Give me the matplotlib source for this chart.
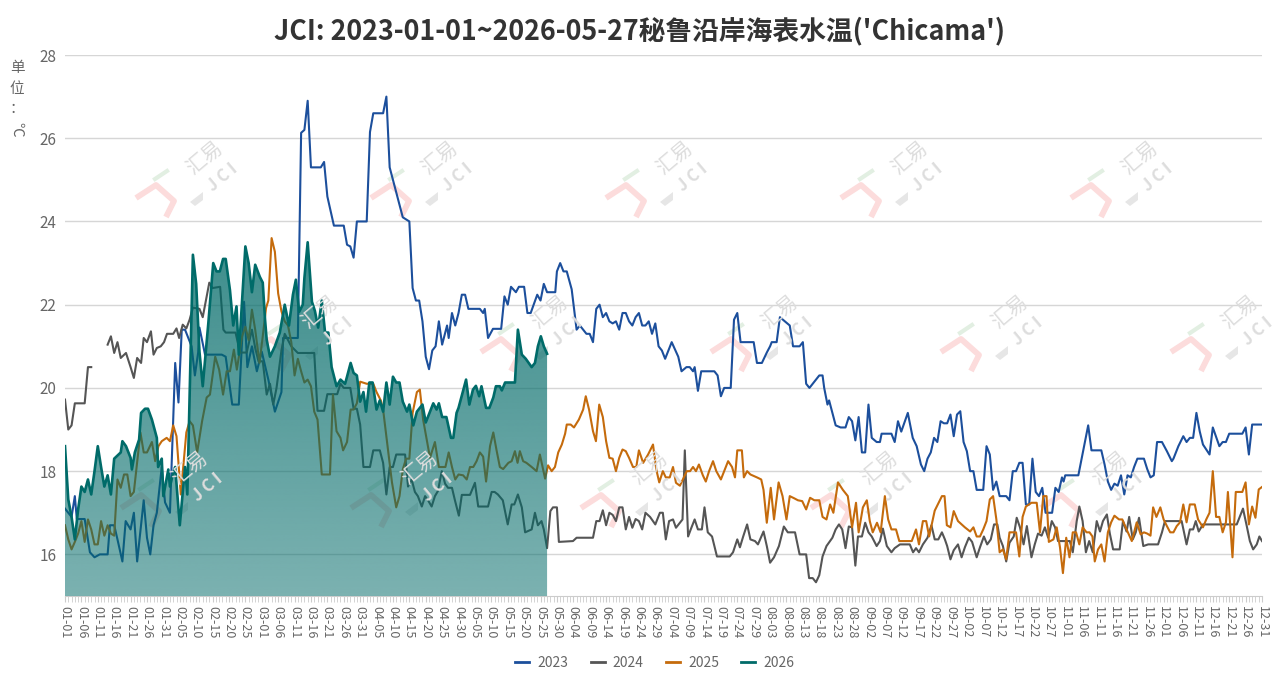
"""
JCI chart: Peru coastal sea surface temperature (Chicama), 2023-2026.
Output: out.png
"""

import numpy as np
import pandas as pd
import matplotlib
matplotlib.use("Agg")
import matplotlib.pyplot as plt
from matplotlib.colors import to_rgb
from matplotlib.lines import Line2D
from matplotlib.patches import Polygon

plt.rcParams["font.family"] = ["Noto Sans CJK SC", "DejaVu Sans"]

# ── Data: (day-of-year index, °C) ─────────────────────────────────────────────
SST_2023 = [
    (0, 17.1), (1, 17.0), (2, 16.9), (3, 17.4), (3.6, 16.85), (6, 16.85), (7.6, 16.05), (9, 15.93),
    (10.6, 16.0), (13, 16.0), (13.7, 16.7), (15, 16.7), (16, 16.36), (17.5, 15.83), (18.5, 16.8),
    (20, 16.6), (21, 17.0), (22, 15.83), (24, 17.3), (25, 16.4), (26, 16.0), (27, 16.7), (28, 17.0),
    (29.5, 18.1), (30.5, 17.25), (32, 17.0), (33.6, 20.6), (34.6, 19.65), (35.6, 21.4), (36.6, 21.4),
    (38.6, 21.0), (39.6, 20.3), (40.6, 20.85), (41, 21.45), (42.7, 20.8), (47.8, 20.8), (49, 20.75),
    (51, 19.6), (53, 19.6), (54.6, 22.07), (55.6, 20.5), (57, 21.0), (58.5, 20.4), (60, 20.87),
    (62, 20.2), (64, 19.43), (66, 19.9), (66.5, 21.2), (71, 21.2), (72, 26.13), (73, 26.2), (74, 26.9),
    (75, 25.3), (78, 25.3), (79, 25.43), (80, 24.6), (82, 23.9), (85, 23.9), (86, 23.44), (87, 23.4),
    (88, 23.13), (89, 24.0), (92, 24.0), (93, 26.15), (94, 26.6), (97, 26.6), (98, 27.0), (99, 25.3),
    (101, 24.7), (103, 24.1), (105, 24.0), (106, 22.4), (107, 22.1), (108, 22.1), (109, 21.6),
    (110, 20.75), (111, 20.45), (112, 20.9), (113, 21.0), (114, 21.6), (115, 21.04), (116.5, 21.5),
    (117, 21.2), (118, 21.8), (119, 21.5), (120, 21.8), (121, 22.24), (122, 22.24), (123, 21.9),
    (126.5, 21.9), (127.5, 21.8), (128, 21.9), (129, 21.2), (130.5, 21.42), (133, 21.42), (134, 22.2),
    (135, 22.0), (136, 22.43), (137.5, 22.3), (138.4, 22.43), (140, 22.43), (141, 21.8), (142, 21.8),
    (144, 22.24), (145, 22.1), (146, 22.5), (147, 22.3), (149.5, 22.3), (150, 22.8), (151, 23.0),
    (152, 22.8), (153, 22.8), (154.5, 22.37), (156, 21.4), (157, 21.5), (159, 21.3), (160, 21.3),
    (161, 21.1), (162, 21.9), (163, 22.0), (164, 21.7), (165, 21.8), (166, 21.6), (167, 21.55),
    (168, 21.6), (169, 21.4), (170, 21.8), (171, 21.8), (172, 21.6), (173, 21.5), (174, 21.7),
    (175, 21.8), (176, 21.5), (177, 21.5), (178, 21.6), (179, 21.3), (180, 21.55), (181, 21.0),
    (182, 20.9), (183, 20.7), (185, 21.1), (187, 20.75), (188, 20.4), (189.5, 20.5), (190.5, 20.5),
    (191.5, 20.4), (192, 20.5), (193, 19.93), (194, 20.4), (198, 20.4), (199, 20.3), (200, 19.8),
    (201, 20.0), (203, 20.0), (204, 21.64), (205, 21.8), (206, 21.1), (210, 21.1), (211, 20.6),
    (212.5, 20.6), (214, 20.85), (215, 21.0), (215.5, 21.1), (217, 21.1), (218, 21.7), (219.5, 21.6),
    (221, 21.5), (222, 21.0), (224, 21.0), (225, 21.1), (226, 20.1), (227, 20.0), (228.5, 20.15),
    (230, 20.3), (231, 20.3), (231.5, 20.0), (232.5, 19.6), (233, 19.7), (234, 19.4), (235, 19.1),
    (236.5, 19.05), (238, 19.05), (239, 19.3), (240, 19.2), (241, 18.74), (242, 19.3), (243, 18.45),
    (244, 18.45), (245, 19.6), (246, 18.8), (247.5, 18.7), (248.5, 18.7), (249, 18.9), (252, 18.9),
    (253, 18.7), (254, 19.2), (255, 18.95), (257, 19.4), (258.5, 18.8), (259.7, 18.6), (261, 18.16),
    (262, 18.0), (263, 18.3), (264, 18.45), (265, 18.8), (266, 18.7), (267, 19.2), (268, 19.15),
    (269, 19.15), (270, 19.36), (271, 18.84), (272, 19.36), (273, 19.44), (274, 18.7), (275, 18.48),
    (276, 18.0), (277, 18.0), (278, 17.55), (280, 17.55), (281, 18.6), (282, 18.4), (283, 17.55),
    (284, 17.75), (285, 17.4), (287, 17.4), (288, 17.3), (289, 18.0), (290, 18.0), (291, 18.2),
    (292, 18.2), (293, 17.2), (294, 17.2), (295, 18.3), (296, 17.5), (297, 17.4), (298, 17.6),
    (299, 17.0), (301, 17.0), (302, 17.6), (303, 17.5), (304, 17.85), (304.5, 17.75), (305, 17.9),
    (309, 17.9), (310, 18.3), (311, 18.7), (312, 19.1), (313, 18.5), (316, 18.5), (317, 18.16),
    (318, 17.75), (319, 17.55), (320, 17.7), (321, 17.65), (322, 17.9), (323, 17.44), (324, 17.9),
    (325, 17.85), (326, 18.1), (327, 18.3), (329, 18.3), (330, 18.05), (331, 17.85), (332, 17.9),
    (333, 18.7), (334.5, 18.7), (336, 18.48), (337.5, 18.24), (338, 18.3), (339.5, 18.6),
    (341, 18.84), (342, 18.7), (343, 18.8), (344, 18.8), (345, 19.4), (346, 18.96), (347, 18.64),
    (349, 18.4), (350, 19.05), (352, 18.6), (353, 18.7), (354, 18.7), (355, 18.9), (359, 18.9),
    (360, 19.05), (361, 18.4), (362, 19.12), (365, 19.12),
]

SST_2024 = [
    (0, 19.72), (1, 19.0), (2, 19.1), (3, 19.63), (6, 19.63), (7, 20.5), (8, 20.5), (10, np.nan),
    (13, 21.04), (14, 21.24), (15, 20.84), (16, 21.1), (17, 20.72), (18.6, 20.84), (20, 20.5),
    (21, 20.24), (22, 20.72), (23.2, 20.6), (24, 21.2), (25, 21.1), (26.2, 21.36), (27, 20.8),
    (28, 20.96), (29.2, 21.0), (30.2, 21.1), (31.1, 21.3), (33, 21.3), (34, 21.43), (34.8, 21.2),
    (35.9, 21.52), (37, 21.43), (38, 21.64), (39, 21.93), (41, 21.9), (42, 21.7), (44, 22.53),
    (45, 22.4), (47.3, 22.43), (48.3, 21.4), (49, 21.33), (52, 21.33), (53.4, 20.85), (55.4, 20.85),
    (57, 21.4), (58, 20.96), (59, 20.64), (60.3, 20.64), (61.5, 19.84), (62.5, 20.1), (63.5, 19.6),
    (64.5, 20.0), (66, 20.9), (67, 21.3), (69, 21.0), (71, 20.84), (76, 20.84), (77, 19.45),
    (79, 19.45), (80, 19.85), (83, 19.85), (84, 20.1), (85, 20.0), (87, 20.0), (88, 19.5),
    (89, 19.5), (90, 19.12), (91, 18.1), (93, 18.1), (94, 18.5), (96, 18.5), (97, 18.2),
    (98, 17.44), (99, 18.1), (100, 18.1), (101, 18.4), (103.7, 18.4), (104.6, 17.63), (105.7, 17.8),
    (106.7, 17.5), (107.6, 17.4), (108.8, 17.15), (109.8, 17.4), (110.7, 17.3), (111.8, 17.15),
    (112.8, 17.4), (113.7, 17.52), (114.9, 18.0), (115.9, 17.7), (116.8, 17.6), (118, 17.6),
    (118.9, 17.3), (120.1, 16.93), (121, 17.43), (123.5, 17.43), (125, 17.72), (126, 17.15),
    (129, 17.15), (130.1, 17.5), (131, 17.5), (132, 17.44), (133.5, 17.3), (135, 16.72),
    (136.2, 17.2), (137, 17.2), (138.1, 17.44), (139.3, 17.13), (140.3, 16.53), (142.3, 16.6),
    (143.3, 17.0), (144.2, 16.7), (145.3, 16.8), (146, 16.6), (147, 16.15), (148, 17.04),
    (148.8, 17.13), (150, 17.13), (150.6, 16.3), (154.9, 16.32), (156, 16.4), (161, 16.4),
    (162, 16.8), (163, 16.8), (164, 17.06), (165, 16.7), (166, 17.0), (167, 16.95), (168, 16.8),
    (169, 17.13), (170, 17.13), (171, 16.6), (172, 16.9), (173, 16.64), (174, 16.85), (175, 16.8),
    (176, 16.6), (177, 17.0), (178.4, 16.9), (180, 16.72), (181.4, 17.0), (182.3, 17.0),
    (183.2, 16.36), (184.2, 16.8), (185.4, 16.84), (186.3, 16.64), (188.3, 16.84), (189, 18.5),
    (190, 16.43), (191, 16.64), (192, 16.84), (193, 16.6), (194.2, 16.6), (195, 17.13), (196, 16.53),
    (197.3, 16.43), (198.8, 15.95), (202.7, 15.95), (203.7, 16.05), (205, 16.36), (205.8, 16.17),
    (206.8, 16.43), (208, 16.72), (209, 16.36), (210.4, 16.32), (211.3, 16.24), (213, 16.55),
    (214, 16.2), (215, 15.8), (216.2, 15.93), (217.7, 16.2), (219.2, 16.67), (220.4, 16.53),
    (222.6, 16.53), (224, 16.0), (226, 16.0), (226.9, 15.43), (228, 15.43), (229, 15.33),
    (230, 15.5), (231, 15.95), (232.2, 16.2), (234, 16.4), (235, 16.6), (236, 16.72), (237, 16.6),
    (238, 16.15), (239, 16.67), (240, 16.65), (241, 15.73), (241.8, 16.43), (243, 16.43),
    (244, 16.76), (245, 16.53), (246, 16.43), (247.5, 16.2), (248.5, 16.32), (249.4, 16.62),
    (250.6, 16.2), (252, 16.05), (253, 16.15), (254.6, 16.24), (257.6, 16.24), (258.6, 16.05),
    (259.5, 16.15), (260.4, 16.05), (261.6, 16.24), (263, 16.4), (264.2, 16.7), (265.2, 16.36),
    (266.3, 16.36), (267.4, 16.53), (268.3, 16.36), (269, 16.2), (270, 15.88), (271, 16.1),
    (272.3, 16.24), (273.4, 15.93), (274.4, 16.17), (275.6, 16.4), (276.6, 16.3), (278, 15.93),
    (279, 16.17), (280.2, 16.43), (281.2, 16.24), (282.3, 16.36), (283.3, 16.72), (284.3, 16.72),
    (285, 16.4), (286, 16.2), (287, 15.83), (288, 16.28), (289.3, 16.43), (290.2, 16.88),
    (291.2, 16.65), (292.3, 16.24), (293.3, 16.68), (294.7, 15.93), (295.7, 16.24), (296.7, 16.5),
    (297.8, 16.45), (298.8, 16.65), (299.8, 16.4), (300.9, 16.8), (301.9, 16.65), (302.8, 16.32),
    (306.4, 16.32), (307.3, 16.05), (308.5, 16.8), (309.3, 17.15), (310.3, 16.8), (311.3, 16.05),
    (312.3, 16.32), (313.4, 16.05), (314.6, 16.8), (315.6, 16.55), (316.5, 16.8), (317.7, 16.96),
    (318.6, 16.5), (319.6, 16.12), (321.6, 16.12), (322.6, 16.8), (323.7, 16.55), (324.5, 16.9),
    (325.6, 16.36), (326.5, 16.53), (327.5, 16.88), (328.8, 16.2), (330.3, 16.24), (333.3, 16.24),
    (334.5, 16.53), (335.4, 16.8), (340.5, 16.8), (342, 16.24), (343, 16.6), (344, 16.6),
    (344.8, 16.8), (345.7, 16.55), (347, 16.72), (357.3, 16.72), (359.2, 17.1), (360.3, 16.7),
    (361.3, 16.32), (362.3, 16.12), (363.4, 16.24), (364.2, 16.43), (365, 16.32),
]

SST_2025 = [
    (0, 16.7), (1, 16.36), (2, 16.12), (3, 16.3), (4, 16.5), (5, 16.8), (6, 16.3), (7, 16.84),
    (8, 16.6), (9, 16.24), (10, 16.24), (11, 16.8), (12, 16.45), (13, 16.7), (14, 16.5),
    (15, 16.45), (16, 17.8), (17, 17.6), (18, 17.92), (19, 17.92), (20, 17.4), (21, 17.5),
    (23, 18.93), (24, 18.45), (25, 18.45), (26.5, 18.7), (27.5, 18.24), (28.5, 18.6), (29.5, 18.72),
    (31, 18.8), (32, 18.72), (33, 19.1), (34, 18.84), (35.3, 17.44), (37, 18.93), (38, 19.2),
    (39, 19.1), (40.3, 18.45), (41.8, 19.2), (43.2, 19.77), (44.2, 19.84), (45.8, 20.75),
    (47, 20.44), (48.2, 19.84), (49.3, 20.4), (50.3, 20.4), (51.5, 20.92), (52.4, 20.44),
    (54, 21.24), (55, 21.47), (56, 21.15), (57, 21.88), (58, 21.4), (59.3, 20.6), (60.3, 21.24),
    (61.3, 21.92), (62, 22.1), (63, 23.6), (64, 23.27), (65, 22.27), (66, 21.84), (67, 21.6),
    (68, 21.5), (69, 21.1), (70, 20.3), (71, 20.7), (72, 20.4), (73, 20.13), (74, 20.2),
    (75, 20.04), (76, 19.43), (77, 19.24), (78.3, 17.92), (80.8, 17.92), (81.7, 19.84),
    (82.8, 18.96), (84, 18.8), (84.8, 18.5), (86, 18.7), (87.1, 19.48), (88, 19.48), (89, 19.63),
    (90, 20.15), (92, 20.1), (94, 20.1), (95, 19.9), (96.3, 19.7), (97, 19.48), (98.2, 18.7),
    (99.7, 17.73), (101, 17.13), (102, 17.4), (103, 18.04), (104, 18.3), (105, 18.3), (106, 19.4),
    (107.3, 19.9), (108.2, 19.96), (109.2, 19.24), (110.3, 18.76), (111.3, 18.32), (112.8, 18.7),
    (114, 18.1), (116, 18.1), (117, 18.45), (118, 18.1), (119, 17.8), (120, 17.92), (121.4, 17.9),
    (122.5, 17.8), (123.5, 18.1), (124.5, 18.1), (125.5, 18.24), (126.5, 18.45), (127.5, 18.35),
    (128.4, 17.75), (129.6, 18.6), (130.6, 18.93), (131.6, 18.5), (132.6, 18.1), (133.6, 18.05),
    (135.2, 18.2), (136.2, 18.24), (137.2, 18.48), (138, 18.2), (138.7, 18.48), (139.7, 18.24),
    (140.7, 18.2), (142.3, 18.1), (143.8, 18.0), (144.8, 18.4), (146.4, 17.82), (147.3, 18.14),
    (148.4, 18.0), (149.4, 18.1), (150.4, 18.45), (151.5, 18.64), (152.5, 18.9), (153, 19.12),
    (154.2, 19.12), (155.2, 19.05), (156.7, 19.24), (158, 19.48), (158.8, 19.8), (159.8, 19.48),
    (161, 18.96), (161.9, 18.72), (162.9, 19.6), (164, 19.3), (165, 18.72), (166, 18.32),
    (167, 18.3), (168, 18.0), (169, 18.32), (170, 18.52), (171, 18.48), (172, 18.32),
    (173.2, 18.1), (174.2, 18.1), (175, 18.5), (176.3, 18.2), (177.8, 18.4), (179.3, 18.64),
    (180.3, 18.04), (181.2, 17.73), (182.3, 18.0), (183.2, 17.85), (184.4, 17.85), (185.4, 18.1),
    (186.3, 17.72), (187.5, 17.65), (188.4, 17.8), (189.6, 18.0), (190.6, 18.0), (191.5, 18.1),
    (192.4, 18.0), (193.3, 18.16), (194.5, 17.9), (195.4, 17.75), (196.4, 18.0), (197.6, 18.24),
    (198.6, 18.0), (200, 17.8), (201, 18.0), (202.2, 18.24), (203.4, 18.1), (204.3, 17.85),
    (205, 18.5), (206.4, 18.5), (207, 17.85), (208, 18.0), (209, 17.92), (211, 17.85),
    (212.3, 17.8), (213, 17.55), (214, 16.76), (215.2, 17.6), (216.2, 16.84), (217.6, 17.73),
    (218.8, 17.4), (220, 16.84), (221, 17.4), (222.3, 17.35), (223.5, 17.3), (224.8, 17.28),
    (226, 17.08), (227.2, 17.36), (228.5, 17.3), (230, 17.3), (231, 16.9), (232.2, 16.84),
    (233.3, 17.2), (234.3, 17.0), (235.7, 17.73), (237.2, 17.55), (238.7, 17.4), (240, 16.65),
    (241.2, 17.24), (242, 16.53), (243.3, 17.13), (244.5, 17.3), (245.4, 16.8), (246.3, 16.53),
    (247.6, 16.76), (248.7, 16.53), (250, 17.4), (251, 16.84), (252, 16.6), (253.4, 16.6),
    (254.4, 16.32), (258.2, 16.32), (259.5, 16.6), (260.4, 16.24), (261.6, 16.8), (262.6, 16.8),
    (263.5, 16.43), (265.2, 17.05), (267.4, 17.4), (268.2, 17.4), (268.9, 16.7), (270, 16.65),
    (271, 17.04), (272.3, 16.8), (274.4, 16.65), (276, 16.55), (277, 16.65), (278, 16.43),
    (279, 16.43), (280, 16.6), (281, 16.8), (282, 17.32), (283, 17.4), (284, 16.84), (285, 16.05),
    (286, 16.12), (287, 15.88), (288, 16.53), (290, 16.53), (291, 15.95), (292, 16.9),
    (293, 17.15), (294.7, 17.24), (296.3, 17.24), (297.3, 16.53), (298.3, 17.4), (299.3, 17.4),
    (300, 16.3), (301.4, 16.36), (302.4, 16.65), (303.4, 16.17), (304.3, 15.55), (305.3, 16.4),
    (306.3, 15.93), (307.3, 16.53), (308.3, 16.53), (309.3, 16.24), (310.3, 16.65), (311.5, 16.53),
    (312.4, 16.53), (313.3, 16.43), (314, 15.83), (315, 16.12), (316, 16.24), (317, 15.83),
    (318, 16.53), (319, 16.77), (320, 16.93), (321.4, 16.84), (322.4, 16.84), (323.7, 16.6),
    (325.3, 16.32), (326.8, 16.77), (328, 16.48), (329, 16.53), (330, 16.5), (331, 16.45),
    (331.8, 17.13), (332.8, 16.9), (334, 17.13), (335, 16.84), (336, 16.68), (337, 16.53),
    (338, 16.53), (339, 16.68), (340, 16.77), (341, 17.2), (342, 16.77), (343, 17.2),
    (344.5, 17.2), (345.5, 16.84), (347, 16.65), (348, 16.84), (349, 17.0), (350, 18.0),
    (351, 16.9), (352, 16.9), (353, 16.53), (354, 16.77), (354.6, 17.5), (356, 15.93),
    (357, 17.5), (359, 17.5), (360, 17.73), (361, 16.72), (362, 17.15), (363, 16.88),
    (364, 17.56), (365, 17.62),
]

SST_2026 = [
    (0, 18.6), (1, 17.32), (2, 16.9), (3, 16.36), (4, 17.08), (5, 17.63), (6, 17.5), (7, 17.8),
    (8, 17.44), (9, 18.0), (10, 18.6), (11, 18.1), (12, 17.63), (13, 17.9), (14, 17.44),
    (15, 18.3), (17, 18.45), (17.5, 18.72), (18.6, 18.6), (20, 18.32), (20.4, 18.04),
    (21.3, 18.45), (22.6, 18.76), (23.2, 19.4), (24.4, 19.5), (25.3, 19.5), (26.5, 19.24),
    (28, 18.8), (28.4, 18.1), (29.5, 18.3), (30, 17.4), (31.5, 18.04), (32, 17.63), (33, 17.97),
    (33.6, 18.1), (35, 16.7), (36.6, 18.1), (37.3, 17.44), (39, 23.2), (40, 22.5), (41, 20.87),
    (42, 20.04), (43.7, 21.55), (45.2, 23.0), (46.2, 22.8), (47.2, 22.8), (48.2, 23.1), (49, 23.1),
    (50.3, 22.35), (51.3, 21.5), (52.3, 21.96), (53, 20.8), (55, 23.4), (56, 23.0), (57, 22.3),
    (58, 22.96), (59.4, 22.67), (60.3, 22.53), (61, 21.64), (61.5, 21.16), (62.5, 20.75),
    (64, 21.0), (65.5, 21.33), (67, 22.0), (68.3, 21.5), (69.5, 22.24), (70.4, 22.6),
    (71.4, 21.83), (72.5, 22.0), (73, 22.64), (74, 23.5), (75.3, 22.07), (76.2, 21.85),
    (77.2, 21.45), (78.3, 22.1), (79.3, 21.33), (80.3, 21.33), (81.3, 20.5), (82.8, 20.04),
    (84, 20.2), (85.4, 20.1), (86, 20.27), (87.1, 20.6), (88, 20.36), (89, 20.3), (90, 19.67),
    (91, 19.9), (91.8, 19.43), (92.8, 20.13), (93.8, 20.13), (95, 19.48), (96, 19.7), (97, 19.43),
    (98, 20.13), (99, 19.6), (100, 20.27), (101, 20.13), (102, 20.13), (103, 19.67),
    (104.3, 19.43), (105, 19.6), (106.2, 19.1), (107.3, 19.43), (109, 19.6), (110, 19.17),
    (111.3, 19.43), (112.3, 19.63), (113.3, 19.48), (114, 19.63), (115, 19.3), (116.3, 19.3),
    (117.7, 18.8), (118.4, 18.8), (119.4, 19.4), (120, 19.52), (121.3, 19.9), (122.3, 20.2),
    (123.3, 19.6), (124.4, 19.96), (125.3, 20.05), (126.3, 19.8), (127, 20.04), (128.4, 19.52),
    (129.4, 19.52), (130.6, 19.77), (131.4, 20.04), (132.6, 20.04), (133.2, 19.94),
    (134.2, 20.13), (137.2, 20.13), (138.1, 21.4), (139.3, 20.8), (140.5, 20.7), (142.3, 20.5),
    (143.3, 20.6), (144.2, 21.0), (145.1, 21.24), (146, 21.0), (147, 20.82),
]

YEARS = ["2023", "2024", "2025", "2026"]
SERIES = [SST_2023, SST_2024, SST_2025, SST_2026]

# category axis of a leap year: 01-01 ... 12-31, labelled every 5th day
DAY_LABELS = list(pd.date_range("2024-01-01", "2024-12-31").strftime("%m-%d"))
Y_TICKS = [16, 18, 20, 22, 24, 26, 28]

# ── Style ─────────────────────────────────────────────────────────────────────
COLORS = {"2023": "#1c4f9c", "2024": "#555555", "2025": "#c56b0c", "2026": "#006b69"}
FILL = "#006a68"
GRID = "#d6d6d6"
TEXT = "#666666"
TITLE = "#333333"

W, H = 1278, 689

# watermark text centres (figure pixels)
MARKS = [(x, 158) for x in (205, 440, 675, 910, 1140)] + \
        [(x, 312) for x in (320, 550, 780, 1010, 1240)] + \
        [(x, 468) for x in (190, 420, 650, 880, 1110)]


def fpt(px, py):
    return px / W, 1 - py / H


def watermark(fig, tx, ty):
    """Faint 汇易 JCI logo; (tx, ty) is the centre of 汇易 in figure pixels."""
    red = [fpt(tx + dx, ty + dy) for dx, dy in [(-69, 40), (-49, 27), (-31, 43), (-39, 59)]]
    fig.add_artist(Line2D(*zip(*red), transform=fig.transFigure, color="#fcdcdc",
                          lw=4.2, solid_capstyle="butt", solid_joinstyle="round", zorder=0))
    green = [fpt(tx + dx, ty + dy) for dx, dy in [(-50, 21), (-38, 13)]]
    fig.add_artist(Line2D(*zip(*green), transform=fig.transFigure, color="#e2efe2",
                          lw=3.0, zorder=0))
    grey = [fpt(tx + dx, ty + dy) for dx, dy in [(-15, 44), (-2, 34), (-2, 42), (-10, 48)]]
    fig.add_artist(Polygon(grey, closed=True, transform=fig.transFigure,
                           facecolor="#e6e6e6", edgecolor="none", zorder=0))
    fig.text(*fpt(tx, ty), "汇易", rotation=40, fontsize=14.5, color="#dddddd",
             ha="center", va="center", zorder=0)
    fig.text(*fpt(tx + 18, ty + 19), "J C I", rotation=40, fontsize=12, color="#dddddd",
             ha="center", va="center", zorder=0, fontweight="bold")


def main():
    fig = plt.figure(figsize=(W / 100, H / 100), dpi=100)
    fig.patch.set_facecolor("white")
    ax = fig.add_axes([65 / W, 1 - 596 / H, 1197 / W, 541 / H])
    ax.set_facecolor("none")

    for tx, ty in MARKS:
        watermark(fig, tx, ty)

    for year, data in zip(YEARS, SERIES):
        d, v = zip(*data)
        lw = 1.5 if year != "2026" else 1.9
        z = 4 if year != "2026" else 6
        ax.plot(d, v, color=COLORS[year], lw=lw, zorder=z)

    # 2026 gradient area, drawn over the other years
    d26, v26 = zip(*SST_2026)
    poly = ax.fill_between(d26, v26, 15, facecolor="none", edgecolor="none")
    grad = np.zeros((256, 1, 4))
    grad[..., :3] = to_rgb(FILL)
    grad[..., 3] = np.linspace(0.52, 0.76, 256)[:, None]
    im = ax.imshow(grad, extent=(0, max(d26), 15, max(v26)), origin="lower",
                   aspect="auto", zorder=5, interpolation="bicubic")
    im.set_clip_path(poly.get_paths()[0], transform=ax.transData)

    ax.set_xlim(0, 365)
    ax.set_ylim(15, 28)

    ax.set_yticks(Y_TICKS)
    ax.set_yticklabels([str(t) for t in Y_TICKS])
    ax.yaxis.grid(True, color=GRID, lw=1)
    ax.set_axisbelow(True)
    ax.tick_params(axis="y", length=0, labelsize=11, labelcolor=TEXT, pad=6)

    ax.set_xticks(range(0, 366, 5))
    ax.set_xticklabels(DAY_LABELS[::5], rotation=-90)
    ax.set_xticks(range(0, 366), minor=True)
    ax.tick_params(axis="x", which="both", length=4, color="#cccccc",
                   labelsize=9, labelcolor=TEXT, pad=3)

    for side in ["top", "right", "left"]:
        ax.spines[side].set_visible(False)
    ax.spines["bottom"].set_color("#cccccc")

    fig.text(0.5, 1 - 31 / H, "JCI: 2023-01-01~2026-05-27秘鲁沿岸海表水温('Chicama')",
             ha="center", va="center", fontsize=19.3, fontweight="bold", color=TITLE)

    for ch, y in [("单", 68), ("位", 89), ("：", 109)]:
        fig.text(*fpt(17, y), ch, ha="center", va="center", fontsize=10.5, color=TEXT)
    fig.text(*fpt(16, 129), "℃", ha="center", va="center", rotation=-90,
             fontsize=10.5, color=TEXT)

    handles = [Line2D([], [], color=COLORS[y], lw=2) for y in YEARS]
    fig.legend(handles, YEARS, loc="center", bbox_to_anchor=(655 / W, 1 - 663 / H),
               ncol=4, frameon=False, fontsize=10, labelcolor=TEXT,
               handlelength=1.0, handletextpad=0.6, columnspacing=1.6)

    fig.savefig("out.png", dpi=100, facecolor="white")


if __name__ == "__main__":
    main()
